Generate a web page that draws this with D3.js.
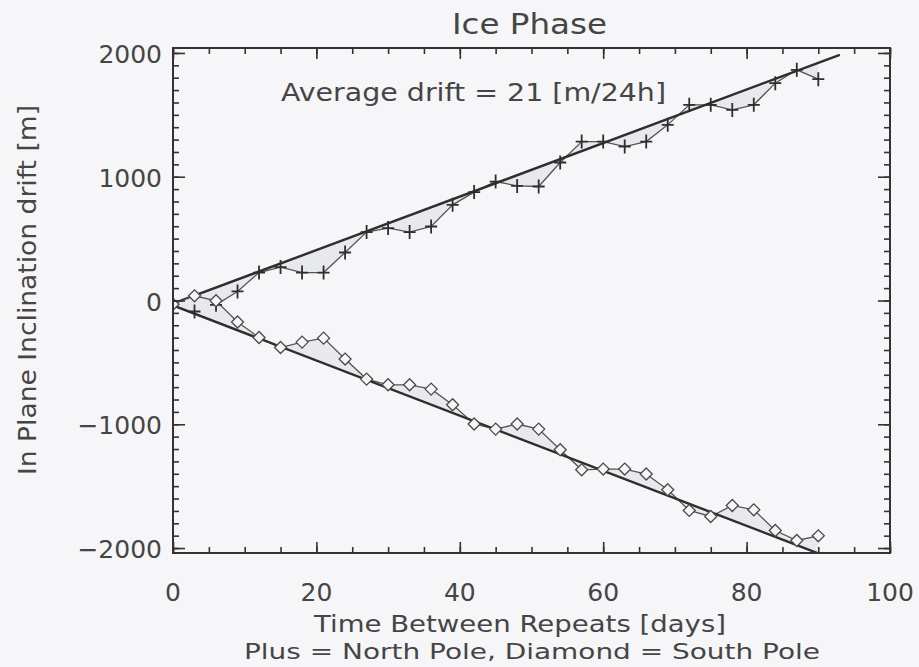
<!DOCTYPE html>
<html>
<head>
<meta charset="utf-8">
<title>Ice Phase</title>
<script src="https://cdn.jsdelivr.net/npm/d3@7"></script>
<style>
  body { margin: 0; background: #f6f6f8; }
  text { fill: #454545; font-family: 'DejaVu Sans', sans-serif; }
</style>
</head>
<body>
<svg id="svg" width="919" height="667"></svg>
<script>
// repeat interval in days
var days = [0, 3, 6, 9, 12, 15, 18, 21, 24, 27, 30, 33, 36, 39, 42, 45,
            48, 51, 54, 57, 60, 63, 66, 69, 72, 75, 78, 81, 84, 87, 90];
// plus = north pole
var north = [-30, -89, -35, 73, 226, 270, 226, 226, 388, 553, 585, 553, 598, 773, 876, 961,
             926, 921, 1115, 1284, 1284, 1244, 1284, 1419, 1581, 1581, 1540, 1581, 1756, 1864, 1788];
// diamond = south pole
var south = [-30, 38, -2, -174, -299, -380, -336, -304, -473, -635, -681, -681, -716, -842, -998, -1039,
             -998, -1039, -1206, -1368, -1362, -1362, -1402, -1529, -1696, -1745, -1656, -1691, -1858, -1939, -1901];
// fitted drift lines, end points [day, m]
var northFit = [[0, -25], [93, 1985]];
var southFit = [[0, -40], [93, -2110]];

var xTicks = [0, 20, 40, 60, 80, 100];
var yTicks = [-2000, -1000, 0, 1000, 2000];

var L = 173, R = 890, T = 48, B = 553;
var svg = d3.select('#svg');

var x = d3.scaleLinear().domain([0, 100]).range([L, R]);
var y = d3.scaleLinear().domain([-2040, 2040]).range([B, T]);

svg.append('clipPath').attr('id', 'clip')
  .append('rect').attr('x', L).attr('y', T).attr('width', R - L).attr('height', B - T);

var plot = svg.append('g').attr('clip-path', 'url(#clip)');

function fitAt(fit, d) {
  var t = (d - fit[0][0]) / (fit[1][0] - fit[0][0]);
  return fit[0][1] + t * (fit[1][1] - fit[0][1]);
}

function drawSeries(vals, fit) {
  var pts = days.map(function(d, i){ return [d, vals[i]]; });
  // faint shading between the data and the fit
  plot.append('path').datum(pts)
    .attr('fill', '#e7e9ec')
    .attr('d', d3.area()
      .x(function(p){ return x(p[0]); })
      .y0(function(p){ return y(fitAt(fit, p[0])); })
      .y1(function(p){ return y(p[1]); }));
  plot.append('path').datum(pts)
    .attr('fill', 'none').attr('stroke', '#555').attr('stroke-width', 1.3)
    .attr('d', d3.line().x(function(p){ return x(p[0]); }).y(function(p){ return y(p[1]); }));
  plot.append('path').datum(fit)
    .attr('fill', 'none').attr('stroke', '#2e2e2e').attr('stroke-width', 2.4)
    .attr('d', d3.line().x(function(p){ return x(p[0]); }).y(function(p){ return y(p[1]); }));
  return pts;
}

var nPts = drawSeries(north, northFit);
var sPts = drawSeries(south, southFit);

plot.selectAll('path.plus').data(nPts).enter().append('path')
  .attr('class', 'plus')
  .attr('d', function(p){ var cx = x(p[0]), cy = y(p[1]);
    return 'M' + (cx - 6) + ',' + cy + 'H' + (cx + 6) + 'M' + cx + ',' + (cy - 7) + 'V' + (cy + 7); })
  .attr('stroke', '#2e2e2e').attr('stroke-width', 1.8).attr('fill', 'none');

plot.selectAll('path.diamond').data(sPts).enter().append('path')
  .attr('class', 'diamond')
  .attr('d', function(p){ var cx = x(p[0]), cy = y(p[1]);
    return 'M' + (cx - 6) + ',' + cy + 'L' + cx + ',' + (cy - 6) + 'L' + (cx + 6) + ',' + cy + 'L' + cx + ',' + (cy + 6) + 'Z'; })
  .attr('stroke', '#4a4a4a').attr('stroke-width', 1.3).attr('fill', '#f6f6f8');

// axes box with inward ticks on all four sides
var xMinor = d3.range(0, 101, 5), yMinor = d3.range(-2000, 2041, 100);
function ax(axis, tx, ty, ticks, size) {
  var g = svg.append('g').attr('transform', 'translate(' + tx + ',' + ty + ')')
    .call(axis.tickValues(ticks).tickSize(size).tickSizeOuter(0).tickFormat(''));
  g.select('.domain').remove();
  g.selectAll('line').attr('stroke', '#333').attr('stroke-width', 1.6);
  return g;
}
ax(d3.axisBottom(x), 0, B, xMinor, -6);
ax(d3.axisBottom(x), 0, B, xTicks, -11);
ax(d3.axisTop(x), 0, T, xMinor, -6);
ax(d3.axisTop(x), 0, T, xTicks, -11);
ax(d3.axisLeft(y), L, 0, yMinor, -6);
ax(d3.axisLeft(y), L, 0, yTicks, -12);
ax(d3.axisRight(y), R, 0, yMinor, -6);
ax(d3.axisRight(y), R, 0, yTicks, -12);

svg.append('rect').attr('x', L).attr('y', T).attr('width', R - L).attr('height', B - T)
  .attr('fill', 'none').attr('stroke', '#333').attr('stroke-width', 2);

// tick labels
svg.selectAll('text.xl').data(xTicks).enter().append('text')
  .attr('x', function(d){ return x(d); }).attr('y', 601)
  .attr('text-anchor', 'middle').attr('font-size', 25)
  .text(function(d){ return d; });
svg.selectAll('text.yl').data(yTicks).enter().append('text')
  .attr('x', 162).attr('y', function(d){ return y(d) + 10; })
  .attr('text-anchor', 'end').attr('font-size', 25)
  .text(function(d){ return d < 0 ? '\u2212' + Math.abs(d) : d; });

function label(txt, xx, yy, size, len) {
  return svg.append('text').attr('x', xx).attr('y', yy).attr('font-size', size)
    .attr('textLength', len).attr('lengthAdjust', 'spacingAndGlyphs').text(txt);
}
label('Ice Phase', 452, 34, 28, 155);
label('Average drift = 21 [m/24h]', 281, 101, 25, 385);
label('Time Between Repeats [days]', 314, 632, 23, 412);
label('Plus = North Pole, Diamond = South Pole', 244, 659, 21, 576);
svg.append('text').attr('transform', 'translate(36,475) rotate(-90)')
  .attr('font-size', 25).attr('textLength', 370).attr('lengthAdjust', 'spacingAndGlyphs')
  .text('In Plane Inclination drift [m]');
</script>
</body>
</html>
